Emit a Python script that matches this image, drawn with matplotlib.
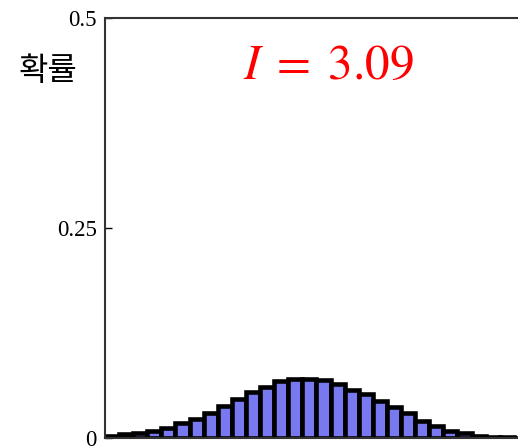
import numpy as np
import matplotlib
matplotlib.use('Agg')
import matplotlib.pyplot as plt

# 막대 데이터
k = np.arange(30)
prob = [0.0026, 0.0042, 0.0062, 0.0086, 0.0121, 0.0173, 0.0224, 0.0300,
        0.0383, 0.0462, 0.0542, 0.0613, 0.0673, 0.0702, 0.0708, 0.0685,
        0.0637, 0.0577, 0.0518, 0.0446, 0.0375, 0.0298, 0.0208, 0.0137,
        0.0083, 0.0054, 0.0024, 0.0012, 0.0006, 0.0003]
y_ticks = [0, 0.25, 0.5]
y_tick_labels = ['0', '0.25', '0.5']
info_text = r'$I\;=\;\mathrm{3.09}$'

plt.rcParams['mathtext.fontset'] = 'stix'

fig = plt.figure(figsize=(5.18, 4.48), dpi=100)
# 오른쪽 끝은 그림 밖으로 잘림
ax = fig.add_axes([105 / 518, 10 / 448, 437 / 518, 420 / 448])

ax.bar(k, prob, width=1.0, color='#7878f0', edgecolor='black', linewidth=3.3)

ax.set_xlim(-0.5, 30.5)
ax.set_ylim(0, 0.5)
ax.set_yticks(y_ticks)
ax.set_yticklabels(y_tick_labels, family='Liberation Serif', fontsize=16.5)
ax.tick_params(axis='y', direction='in', length=5, width=1, pad=6)
ax.set_xticks([])

for side in ['left', 'top', 'right', 'bottom']:
    ax.spines[side].set_color('#333333')
    ax.spines[side].set_linewidth(1.5)

# 축 라벨과 값
fig.text(48 / 518, 1 - 71 / 448, '확률', family=['Noto Sans CJK KR', 'DejaVu Sans'],
         fontsize=23, ha='center', va='center')
fig.text(328 / 518, 1 - 65 / 448, info_text, color='red', fontsize=35.5,
         ha='center', va='center')

fig.savefig('out.png', dpi=100)
